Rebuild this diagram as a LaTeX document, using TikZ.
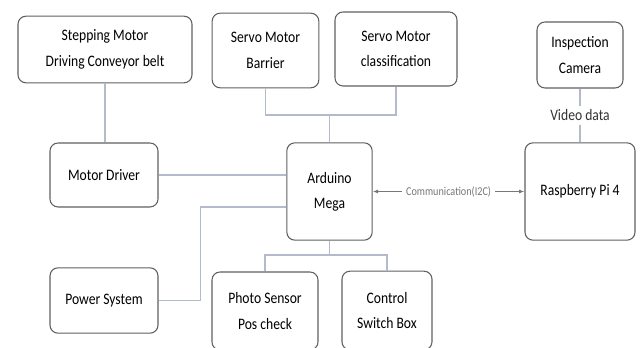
\documentclass[tikz,border=0pt]{standalone}
\usepackage{fontspec}
\setmainfont[FakeStretch=0.85]{Carlito}
\usetikzlibrary{arrows.meta,calc}

\begin{document}
\begin{tikzpicture}[
  x=0.75pt,y=-0.75pt,
  >={Latex[length=4pt,width=3pt]},
  font=\fontsize{12}{19}\selectfont,
  unit/.style={draw=frame,line width=0.8pt,rounded corners=6pt,align=center,inner sep=2pt},
  wire/.style={link,line width=0.8pt},
  tag/.style={fill=white,inner sep=3pt,text=black!80}
]
\definecolor{frame}{RGB}{95,95,95}
\definecolor{link}{RGB}{178,186,204}
\definecolor{note}{RGB}{120,120,120}

\useasboundingbox (0,0) rectangle (640,348);

% Actuators above the controller.
\node[unit,minimum width=130.5pt,minimum height=50pt] (step) at (105,49.5)
  {Stepping Motor\\Driving Conveyor belt};
\node[unit,minimum width=80pt,minimum height=56pt] (barrier) at (265.5,50.5)
  {Servo Motor\\Barrier};
\node[unit,minimum width=91.5pt,minimum height=55.5pt] (sorter) at (396,49)
  {Servo Motor\\classification};

% Controller and its neighbours.
\node[unit,minimum width=64pt,minimum height=73pt] (mega) at (329.5,191.5)
  {Arduino\\Mega};
\node[unit,minimum width=81pt,minimum height=48pt] (driver) at (104,175)
  {Motor Driver};
\node[unit,minimum width=81pt,minimum height=49pt] (power) at (104,300.5)
  {Power System};
\node[unit,minimum width=79.5pt,minimum height=58.5pt] (photo) at (265,311)
  {Photo Sensor\\Pos check};
\node[unit,minimum width=67.5pt,minimum height=59pt] (switchbox) at (387,310.5)
  {Control\\Switch Box};

% Vision side.
\node[unit,minimum width=64.5pt,minimum height=49.5pt] (camera) at (580,55)
  {Inspection\\Camera};
\node[unit,minimum width=82.5pt,minimum height=73pt] (rpi) at (580,191.5)
  {Raspberry Pi 4};

% Wiring between the units.
\coordinate (top) at (329.5,115);
\coordinate (bottom) at (329.5,255);
\draw[wire] (step.south) -- (step.south |- driver.north);
\draw[wire] (driver.east) -- (mega.west |- driver.east);
\draw[wire] (barrier.south) |- (top) -| (sorter.south);
\draw[wire] (top) -- (mega.north);
\draw[wire] (power.east) -- ++(42,0) |- ($(mega.west)+(0,15.5)$);
\draw[wire] (mega.south) -- (bottom);
\draw[wire] (photo.north) |- (bottom) -| (switchbox.north);

% Links of the vision side.
\draw[wire] (camera.south) -- node[tag] {Video data} (rpi.north);
\draw[wire,<->,note] (mega.east) --
  node[tag,text=note,font=\fontsize{9}{11}\selectfont] {Communication(I2C)} (rpi.west);
\end{tikzpicture}
\end{document}
